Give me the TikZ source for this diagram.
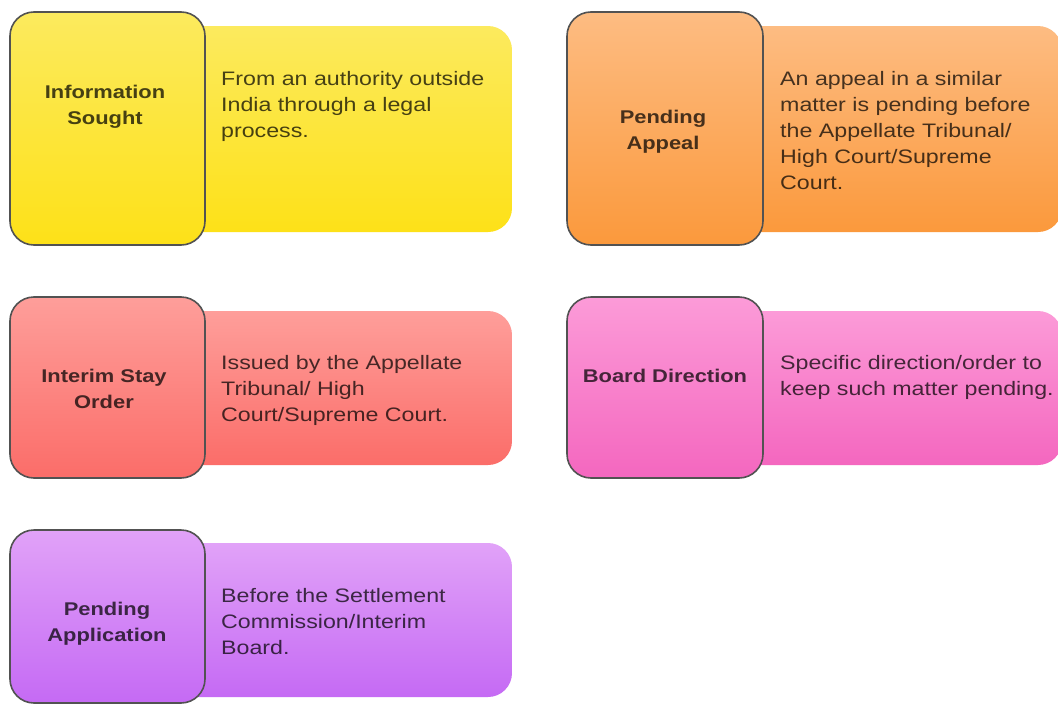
\documentclass[tikz,border=0pt]{standalone}
\usepackage{fontspec}
\setmainfont[FakeStretch=1.19]{Liberation Sans}
\definecolor{ytop}{HTML}{FCEA5E}
\definecolor{ybot}{HTML}{FDE118}
\definecolor{otop}{HTML}{FDBC82}
\definecolor{obot}{HTML}{FB993C}
\definecolor{rtop}{HTML}{FE9E9A}
\definecolor{rbot}{HTML}{FB6D69}
\definecolor{ptop}{HTML}{FC9BD8}
\definecolor{pbot}{HTML}{F467BF}
\definecolor{vtop}{HTML}{E1A2F8}
\definecolor{vbot}{HTML}{C56AF4}
\newcommand\cardtext[1]{\vtop{\baselineskip=26pt\halign{##\hfil\cr #1\crcr}}}
\newcommand\cardhead[1]{\vtop{\baselineskip=26pt\halign{\hfil##\hfil\cr #1\crcr}}}
\begin{document}
\begin{tikzpicture}[x=1pt,y=-1pt,
  lbox/.style={draw=black!68, line width=1.6pt, rounded corners=24pt, inner sep=0pt, outer sep=0pt},
  rbox/.style={rounded corners=24pt, inner sep=0pt, outer sep=0pt},
  body/.style={anchor=base west, inner sep=0pt, font=\fontsize{19.5}{26}\selectfont, text=black, text opacity=0.72},
  head/.style={anchor=base, inner sep=0pt, font=\fontsize{18.4}{26}\selectfont\bfseries, text=black, text opacity=0.72}]
\clip (0,0) rectangle (1058,704);
\fill[white] (0,0) rectangle (1058,704);
% card 1
\node[rbox, top color=ytop, bottom color=ybot, minimum width=362pt, minimum height=206pt] (r1) at (331,129) {};
\node[lbox, top color=ytop, bottom color=ybot, minimum width=195pt, minimum height=233pt] (l1) at (107.5,128.5) {};
\node[head] (h1) at (105,98) {\cardhead{Information\cr Sought}};
\node[body] (t1) at (221,85) {\cardtext{From an authority outside\cr India through a legal\cr process.}};
% card 2
\node[rbox, top color=otop, bottom color=obot, minimum width=352pt, minimum height=206pt] (r2) at (886,129) {};
\node[lbox, top color=otop, bottom color=obot, minimum width=196pt, minimum height=233pt] (l2) at (665,128.5) {};
\node[head] (h2) at (663,123) {\cardhead{Pending\cr Appeal}};
\node[body] (t2) at (780,85) {\cardtext{An appeal in a similar\cr matter is pending before\cr the Appellate Tribunal/\cr High Court/Supreme\cr Court.}};
% card 3
\node[rbox, top color=rtop, bottom color=rbot, minimum width=362pt, minimum height=154pt] (r3) at (331,388) {};
\node[lbox, top color=rtop, bottom color=rbot, minimum width=195pt, minimum height=181pt] (l3) at (107.5,387.5) {};
\node[head] (h3) at (104,382) {\cardhead{Interim Stay\cr Order}};
\node[body] (t3) at (221,369) {\cardtext{Issued by the Appellate\cr Tribunal/ High\cr Court/Supreme Court.}};
% card 4
\node[rbox, top color=ptop, bottom color=pbot, minimum width=352pt, minimum height=154pt] (r4) at (886,388) {};
\node[lbox, top color=ptop, bottom color=pbot, minimum width=196pt, minimum height=181pt] (l4) at (665,387.5) {};
\node[head] (h4) at (665,382) {\cardhead{Board Direction}};
\node[body] (t4) at (780,369) {\cardtext{Specific direction/order to\cr keep such matter pending.}};
% card 5
\node[rbox, top color=vtop, bottom color=vbot, minimum width=362pt, minimum height=154pt] (r5) at (331,620) {};
\node[lbox, top color=vtop, bottom color=vbot, minimum width=195pt, minimum height=173pt] (l5) at (107.5,616.5) {};
\node[head] (h5) at (107,615) {\cardhead{Pending\cr Application}};
\node[body] (t5) at (221,602) {\cardtext{Before the Settlement\cr Commission/Interim\cr Board.}};
\end{tikzpicture}
\end{document}
